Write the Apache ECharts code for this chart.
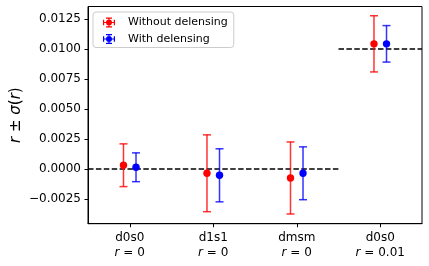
<!DOCTYPE html>
<html>
<head>
<meta charset="utf-8">
<script src="https://cdn.jsdelivr.net/npm/echarts@6/dist/echarts.min.js"></script>
<style>
html,body{margin:0;padding:0;background:#fff;}
#chart{width:429px;height:266px;}
</style>
</head>
<body>
<div id="chart"></div>
<script>
// ---- data ----
var categories = ['d0s0', 'd1s1', 'dmsm', 'd0s0'];
var trueR = [0, 0, 0, 0.01];
var trueRLabels = ['0', '0', '0', '0.01'];
var noDelensMean = [0.00031, -0.00036, -0.00075, 0.01042];
var noDelensSigma = [0.00178, 0.00320, 0.00300, 0.00234];
var delensMean = [0.00014, -0.00053, -0.00036, 0.01042];
var delensSigma = [0.00120, 0.00221, 0.00220, 0.00152];
var yTicks = [-0.0025, 0, 0.0025, 0.005, 0.0075, 0.01, 0.0125];
var seriesNames = ['Without delensing', 'With delensing'];

// ---- build ----
var FONT = 'DejaVu Sans';
var xIdx = categories.map(function (c, i) { return i; });

function rows(mean, sigma) {
  return mean.map(function (m, i) { return [i, m, sigma[i]]; });
}

function errRender(offset, color) {
  return function (params, api) {
    var x = api.value(0) + offset;
    var v = api.value(1), s = api.value(2);
    var c = api.coord([x, v]);
    var t = api.coord([x, v + s]);
    var b = api.coord([x, v - s]);
    var hw = 4;
    var ls = { stroke: color, lineWidth: 1.5, opacity: 0.8 };
    return {
      type: 'group',
      children: [
        { type: 'line', shape: { x1: c[0], y1: t[1], x2: c[0], y2: b[1] }, style: ls },
        { type: 'line', shape: { x1: c[0] - hw, y1: t[1], x2: c[0] + hw, y2: t[1] }, style: ls },
        { type: 'line', shape: { x1: c[0] - hw, y1: b[1], x2: c[0] + hw, y2: b[1] }, style: ls },
        { type: 'circle', shape: { cx: c[0], cy: c[1], r: 3.7 }, style: { fill: color } }
      ]
    };
  };
}

// dashed reference line data: each category spans [i-0.5, i+0.5]
var refLine = [];
trueR.forEach(function (r, i) {
  if (i > 0 && trueR[i - 1] !== r) {
    refLine.push([i - 0.5, null]);
    refLine.push([i - 0.5, r]);
  } else if (i === 0) {
    refLine.push([i - 0.5, r]);
  }
  refLine.push([i + 0.5, r]);
});

var icon = 'path://M3,0h6v1.2h-6z M3,8.8h6v1.2h-6z M5.4,0h1.2v10h-1.2z M0,4.4h12v1.2h-12z M0,2.2h1.2v5.6h-1.2z M10.8,2.2h1.2v5.6h-1.2z M3,5a3,3 0 1,1 6,0a3,3 0 1,1 -6,0z';

function fmtY(v) {
  var s = Math.abs(v) < 1e-12 ? '0.0000' : v.toFixed(4);
  return s.replace('-', '\u2212');
}

var chart = echarts.init(document.getElementById('chart'), null, { renderer: 'canvas' });
chart.setOption({
  animation: false,
  backgroundColor: '#ffffff',
  textStyle: { fontFamily: FONT },
  grid: {
    left: 88, right: 7, top: 6.5, bottom: 42.3,
    containLabel: false, outerBoundsMode: 'none',
    show: true, borderColor: '#000', borderWidth: 1, backgroundColor: 'transparent'
  },
  legend: {
    left: 93, top: 12,
    orient: 'vertical',
    itemWidth: 12, itemHeight: 10, itemGap: 5.5,
    padding: [5, 6, 3, 10],
    borderColor: '#cccccc', borderWidth: 1, borderRadius: 3,
    backgroundColor: 'rgba(255,255,255,0.8)',
    textStyle: { fontFamily: FONT, fontSize: 11, color: '#000', padding: [0, 0, 0, 8] },
    data: [
      { name: seriesNames[0], icon: icon, itemStyle: { color: '#ff0000' } },
      { name: seriesNames[1], icon: icon, itemStyle: { color: '#0000ff' } }
    ]
  },
  xAxis: {
    type: 'value', min: -0.5, max: 3.5,
    axisLine: { show: true, onZero: false, lineStyle: { color: '#000', width: 1 } },
    axisTick: { show: true, length: 3.5, lineStyle: { color: '#000' }, customValues: xIdx },
    splitLine: { show: false },
    axisLabel: {
      customValues: xIdx, margin: 7, color: '#000', fontFamily: FONT, fontSize: 12,
      lineHeight: 15,
      formatter: function (v) {
        var i = Math.round(v);
        return '{a|' + categories[i] + '}\n{i|r}{a| = ' + trueRLabels[i] + '}';
      },
      rich: {
        a: { fontFamily: FONT, fontSize: 12, color: '#000', lineHeight: 15 },
        i: { fontFamily: FONT, fontStyle: 'italic', fontSize: 12, color: '#000', lineHeight: 15 }
      }
    }
  },
  yAxis: {
    type: 'value', min: -0.00456, max: 0.01353,
    axisLine: { show: true, onZero: false, lineStyle: { color: '#000', width: 1 } },
    axisTick: { show: true, length: 3.5, lineStyle: { color: '#000' }, customValues: yTicks },
    splitLine: { show: false },
    axisLabel: {
      customValues: yTicks, margin: 7, color: '#000', fontFamily: FONT, fontSize: 12,
      formatter: fmtY
    },
    name: '{i|r} ± {i|σ}({i|r})',
    nameLocation: 'middle', nameGap: 64, nameMoveOverlap: false,
    nameTextStyle: {
      fontFamily: FONT, fontSize: 15, color: '#000',
      rich: {
        i: { fontFamily: FONT, fontStyle: 'italic', fontSize: 15, color: '#000' }
      }
    }
  },
  series: [
    {
      type: 'line', name: 'ref', data: refLine, symbol: 'none', connectNulls: false,
      lineStyle: { color: '#000', width: 1.5, type: [5.5, 2.4] }, silent: true, z: 1
    },
    {
      type: 'custom', name: seriesNames[0], data: rows(noDelensMean, noDelensSigma),
      encode: { x: 0, y: 1 }, itemStyle: { color: '#ff0000' },
      renderItem: errRender(-0.075, '#ff0000'), z: 2
    },
    {
      type: 'custom', name: seriesNames[1], data: rows(delensMean, delensSigma),
      encode: { x: 0, y: 1 }, itemStyle: { color: '#0000ff' },
      renderItem: errRender(0.075, '#0000ff'), z: 3
    }
  ]
});
</script>
</body>
</html>
